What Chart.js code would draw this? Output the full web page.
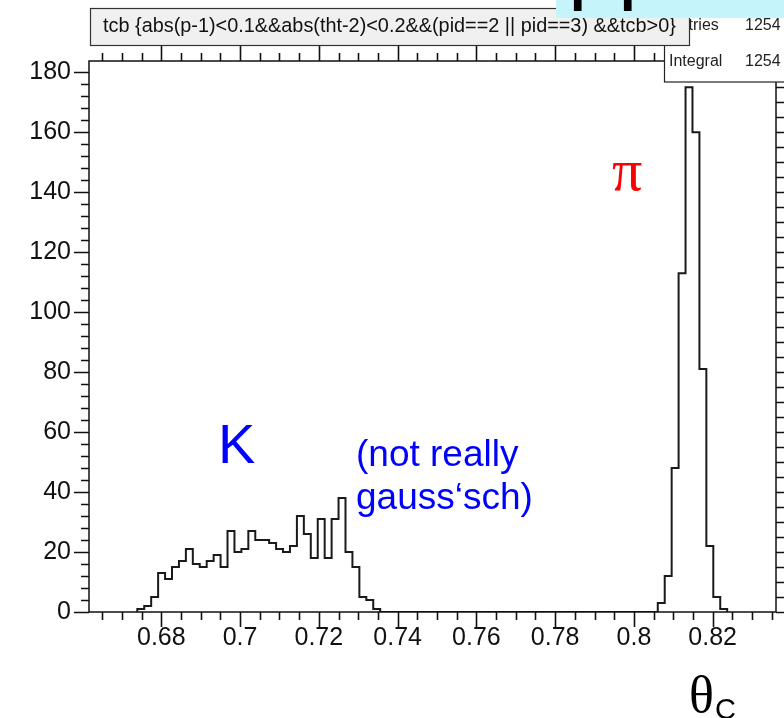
<!DOCTYPE html>
<html>
<head>
<meta charset="utf-8">
<script src="https://cdn.jsdelivr.net/npm/chart.js@4.4.0/dist/chart.umd.min.js"></script>
<style>
  html, body { margin: 0; padding: 0; background: #fff; }
  canvas { display: block; }
</style>
</head>
<body>
<canvas id="tcbHist" width="784" height="718"></canvas>
<script>
// tcb histogram: kaon band around 0.70, pion peak at 0.815
const binLow = 0.673906
const binWidth = 0.001762
const kaonCounts = [1, 2, 5, 13, 11, 15, 17, 21, 16, 15, 17, 19, 15, 27, 20, 21, 27, 24, 24, 23,
  21, 20, 22, 32, 26, 18, 31, 18, 31, 38, 20, 15, 5, 4, 1]
const gapBins = 40
const pionCounts = [3, 12, 48, 113, 175, 160, 81, 22, 5, 1]

const xMin = 0.661643
const xMax = 0.836072
const yMax = 183.75
const xTickValues = [0.68, 0.7, 0.72, 0.74, 0.76, 0.78, 0.8, 0.82]
const yTickValues = [0, 20, 40, 60, 80, 100, 120, 140, 160, 180]

const titleText = 'tcb {abs(p-1)<0.1&&abs(tht-2)<0.2&&(pid==2 || pid==3) &&tcb>0}'
const statsRows = [['Entries', '1254'], ['Integral', '1254']]

const SANS = "'Liberation Sans', Arial, sans-serif"
const SERIF = "'Liberation Serif', 'Times New Roman', serif"

// histogram outline as step points (left bin edges + closing edge)
const counts = kaonCounts.concat(new Array(gapBins).fill(0), pionCounts)
const histPoints = [{ x: binLow, y: 0 }]
counts.forEach((c, i) => histPoints.push({ x: binLow + i * binWidth, y: c }))
histPoints.push({ x: binLow + counts.length * binWidth, y: 0 })

// ROOT style frame, outward ticks, stat box, title box and labels
const rootDecor = {
  id: 'rootDecor',
  afterDraw(chart) {
    const ctx = chart.ctx
    const { left, right, top, bottom } = chart.chartArea
    const xs = chart.scales.x
    const ys = chart.scales.y
    ctx.save()

    // frame
    ctx.strokeStyle = '#111'
    ctx.lineWidth = 1.5
    ctx.strokeRect(left, top, right - left, bottom - top)

    // x ticks, bottom and top
    ctx.beginPath()
    for (let k = Math.ceil(xMin / 0.005); k * 0.005 <= xMax; k++) {
      const px = Math.round(xs.getPixelForValue(k * 0.005)) + 0.5
      const len = k % 4 === 0 ? 15 : 8
      ctx.moveTo(px, bottom); ctx.lineTo(px, bottom + len)
      ctx.moveTo(px, top); ctx.lineTo(px, top - len)
    }
    // y ticks, left
    for (let k = 0; k * 4 <= 180; k++) {
      const py = Math.round(ys.getPixelForValue(k * 4)) + 0.5
      const len = k % 5 === 0 ? 15 : 8
      ctx.moveTo(left, py); ctx.lineTo(left - len, py)
    }
    // right side ticks
    for (let v = 0; v <= 180; v += 5) {
      const py = Math.round(ys.getPixelForValue(v)) + 0.5
      ctx.moveTo(right, py); ctx.lineTo(right + 10, py)
    }
    ctx.lineWidth = 1.6
    ctx.stroke()

    // stat box
    ctx.fillStyle = '#fff'
    ctx.fillRect(664, -2, 140, 84)
    ctx.strokeStyle = '#222'
    ctx.lineWidth = 1.2
    ctx.strokeRect(664.5, -2, 140, 84)
    ctx.fillStyle = '#222'
    ctx.font = '16px ' + SANS
    ctx.textBaseline = 'middle'
    statsRows.forEach((row, i) => {
      const y = 26 + i * 36
      ctx.fillText(row[0], 669, y)
      ctx.fillText(row[1], 745, y)
    })

    // title box
    ctx.fillStyle = '#f0f0f0'
    ctx.fillRect(90, 8, 600, 38)
    ctx.strokeStyle = '#333'
    ctx.lineWidth = 1.2
    ctx.strokeRect(90.5, 8.5, 599, 37)
    ctx.font = '18px ' + SANS
    const fit = 18 * 573 / ctx.measureText(titleText).width
    ctx.font = fit.toFixed(2) + 'px ' + SANS
    ctx.fillStyle = '#111'
    ctx.textBaseline = 'middle'
    ctx.fillText(titleText, 103, 27)

    // cyan header strip cut at the top edge
    ctx.save()
    ctx.beginPath()
    ctx.rect(556, 0, 228, 18)
    ctx.clip()
    ctx.fillStyle = '#c6f4fb'
    ctx.fillRect(556, 0, 228, 18)
    ctx.fillStyle = '#000'
    ctx.font = 'bold 56px ' + SANS
    ctx.textBaseline = 'alphabetic'
    ctx.fillText('p', 570, -1)
    ctx.fillText('p', 620, -1)
    ctx.restore()

    // particle labels
    ctx.textBaseline = 'alphabetic'
    ctx.fillStyle = '#0000ff'
    ctx.font = '56px ' + SANS
    ctx.fillText('K', 218, 463)
    ctx.font = '37px ' + SANS
    ctx.fillText('(not really', 356, 466)
    ctx.fillText('gauss\u2018sch)', 356, 509)

    ctx.fillStyle = '#ff0000'
    ctx.font = '60px ' + SERIF
    ctx.fillText('\u03c0', 612, 190)

    // axis title theta_C
    ctx.fillStyle = '#000'
    ctx.font = '52px ' + SERIF
    ctx.fillText('\u03b8', 689, 712)
    ctx.font = '29px ' + SANS
    ctx.fillText('C', 715, 719)

    ctx.restore()
  }
}

new Chart(document.getElementById('tcbHist'), {
  type: 'line',
  data: {
    datasets: [{
      label: 'tcb',
      data: histPoints,
      stepped: true,
      borderColor: '#1a1a1a',
      borderWidth: 2,
      pointRadius: 0,
      fill: false,
    }]
  },
  options: {
    responsive: false,
    devicePixelRatio: 1,
    animation: false,
    layout: { padding: { top: 61, right: 8, left: 0, bottom: 0 } },
    plugins: { legend: { display: false }, tooltip: { enabled: false } },
    scales: {
      x: {
        type: 'linear',
        min: xMin,
        max: xMax,
        afterBuildTicks: s => { s.ticks = xTickValues.map(v => ({ value: v })) },
        afterFit: s => { s.height = 106 },
        grid: { display: false, drawTicks: false },
        border: { display: false },
        ticks: {
          color: '#111',
          font: { family: SANS, size: 25 },
          padding: 11,
          maxRotation: 0,
          autoSkip: false,
          callback: v => String(v),
        },
      },
      y: {
        min: 0,
        max: yMax,
        afterBuildTicks: s => { s.ticks = yTickValues.map(v => ({ value: v })) },
        afterFit: s => { s.width = 89 },
        grid: { display: false, drawTicks: false },
        border: { display: false },
        ticks: {
          color: '#111',
          font: { family: SANS, size: 25 },
          padding: 18,
          autoSkip: false,
          callback: v => String(v),
        },
      },
    },
  },
  plugins: [rootDecor],
})
</script>
</body>
</html>
